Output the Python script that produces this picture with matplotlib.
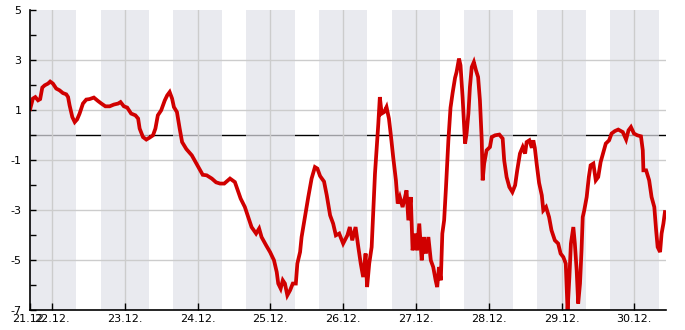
import numpy as np
import pandas as pd
import matplotlib
matplotlib.use("Agg")
import matplotlib.pyplot as plt
import matplotlib.dates as mdates

# hours since 21.12. 00:00 and temperature
hours = [16.8, 17.7, 18.5, 19.4, 20.1, 20.8, 21.6, 22.7, 23.4, 24.3, 25.4, 26.5, 27.6, 28.7, 29.3,
         29.8, 30.7, 31.5, 32.3, 33.1, 34.2, 35.3, 36.4, 37.8, 39.2, 40.3, 41.6, 43.0, 44.4, 45.8,
         46.6, 47.7, 48.8, 50.1, 51.5, 52.4, 52.9, 54.0, 55.1, 56.2, 57.3, 58.1, 58.9, 60.0, 61.2,
         62.0, 62.8, 63.6, 64.2, 65.2, 66.1, 66.9, 68.3, 70.1, 72.2, 73.7, 75.0, 76.7, 78.1, 79.4,
         80.8, 82.7, 84.3, 85.4, 86.2, 87.6, 88.7, 89.8, 91.3, 92.3, 93.1, 94.6, 95.9, 97.2, 98.1,
         98.6, 99.4, 100.1, 100.8, 101.6, 102.5, 103.4, 104.4, 104.9, 105.8, 106.3, 107.4, 108.5,
         109.6, 110.7, 111.5, 112.4, 113.7, 114.6, 115.7, 116.7, 117.6, 118.7, 120.0, 121.4, 122.2,
         123.0, 124.1, 125.0, 125.8, 126.6, 127.4, 127.9, 128.6, 129.4, 129.9, 130.5, 131.1, 131.6,
         132.1, 132.7, 133.5, 134.3, 135.1, 135.8, 136.5, 137.4, 138.0, 138.7, 139.6, 140.4, 140.9,
         141.5, 142.3, 142.9, 143.7, 144.4, 145.1, 145.9, 146.6, 147.3, 148.1, 148.9, 149.7, 150.5,
         151.0, 151.6, 152.2, 152.7, 153.3, 153.9, 154.7, 155.4, 156.1, 156.9, 157.4, 158.2, 158.7,
         159.4, 160.2, 160.7, 161.3, 161.8, 162.4, 163.1, 163.8, 164.5, 165.1, 165.7, 166.0, 166.5,
         167.3, 168.4, 169.0, 170.1, 171.5, 172.6, 173.1, 173.9, 174.8, 175.8, 176.7, 177.4, 178.3,
         179.2, 180.0, 180.5, 181.4, 182.2, 182.7, 183.2, 183.8, 184.6, 185.5, 186.0, 186.9, 187.9,
         188.7, 189.8, 190.9, 191.7, 192.6, 193.4, 194.0, 194.6, 195.1, 195.9, 196.4, 197.0, 197.5,
         198.1, 198.6, 199.0, 199.5, 200.3, 201.0, 201.6, 202.5, 203.3, 204.1, 204.9, 205.8, 206.6,
         207.7, 208.5, 209.6, 210.7, 212.2, 213.3, 214.1, 214.9, 215.9, 217.0, 218.2, 218.8, 219.0,
         219.9, 220.9, 221.7, 222.6, 223.2, 223.7, 224.5, 225.0, 225.6, 226.1]
temps = [1.05, 1.47, 1.53, 1.40, 1.45, 1.91, 2.00, 2.07, 2.15, 2.07, 1.87, 1.80, 1.69, 1.64, 1.53,
         1.20, 0.73, 0.53, 0.64, 0.87, 1.27, 1.43, 1.45, 1.51, 1.37, 1.27, 1.16, 1.16, 1.23, 1.27,
         1.33, 1.16, 1.11, 0.87, 0.80, 0.67, 0.27, -0.07, -0.17, -0.09, 0.00, 0.27, 0.80, 1.00, 1.40,
         1.60, 1.73, 1.47, 1.13, 0.93, 0.27, -0.27, -0.55, -0.80, -1.25, -1.58, -1.60, -1.73, -1.88, -1.93,
         -1.93, -1.73, -1.87, -2.25, -2.53, -2.87, -3.27, -3.67, -3.93, -3.73, -4.07, -4.40, -4.67, -5.00, -5.47,
         -5.93, -6.13, -5.80, -5.93, -6.40, -6.20, -5.93, -5.93, -5.13, -4.67, -4.07, -3.27, -2.47,
         -1.73, -1.27, -1.33, -1.63, -1.85, -2.40, -3.20, -3.53, -4.00, -3.93, -4.33, -4.00, -3.67,
         -4.20, -3.67, -4.47, -5.13, -5.67, -4.73, -6.07, -5.13, -4.47, -3.13, -1.53, -0.47, 0.47,
         1.53, 0.87, 0.93, 1.13, 0.67, -0.07, -0.87, -1.80, -2.73, -2.47, -2.87, -2.47, -2.20,
         -3.40, -2.47, -4.60, -3.93, -4.60, -3.53, -5.00, -4.07, -4.73, -4.07, -5.00, -5.27, -5.80,
         -6.07, -5.27, -5.80, -3.93, -3.40, -2.10, -0.20, 1.10, 1.70, 2.30, 2.53, 3.07, 2.80,
         1.50, -0.33, 0.07, 0.87, 1.93, 2.73, 2.93, 2.60, 2.33, 1.40, -0.20, -1.80, -1.13,
         -0.60, -0.47, -0.07, 0.00, 0.03, -0.13, -1.00, -1.67, -2.07, -2.27, -2.00, -1.40, -0.73,
         -0.47, -0.73, -0.27, -0.20, -0.50, -0.20, -0.50, -1.13, -1.90, -2.40, -3.00, -2.87, -3.27,
         -3.80, -4.20, -4.33, -4.73, -4.87, -5.13, -7.00, -5.67, -4.33, -3.67, -4.33, -5.40, -6.73,
         -5.93, -4.60, -3.27, -3.00, -2.47, -1.67, -1.20, -1.13, -1.80, -1.67, -1.07, -0.67, -0.33,
         -0.20, 0.07, 0.17, 0.23, 0.13, -0.17, 0.20, 0.33, 0.07, 0.00, -0.04, -0.60, -1.40,
         -1.40, -1.80, -2.47, -2.87, -3.80, -4.47, -4.67, -3.93, -3.53, -3.07]

night_days = ["2023-12-20", "2023-12-21", "2023-12-22", "2023-12-23", "2023-12-24",
              "2023-12-25", "2023-12-26", "2023-12-27", "2023-12-28", "2023-12-29"]
tick_days = ["2023-12-22", "2023-12-23", "2023-12-24", "2023-12-25", "2023-12-26",
             "2023-12-27", "2023-12-28", "2023-12-29", "2023-12-30"]
y_major = [-7, -5, -3, -1, 1, 3, 5]
y_minor = [-6, -4, -2, 0, 2, 4]

plt.rcParams['axes.unicode_minus'] = False
plt.rcParams['font.family'] = 'DejaVu Sans'

t0 = pd.Timestamp("2023-12-21")
times = t0 + pd.to_timedelta(hours, unit="h")
t_start = t0 + pd.Timedelta(hours=16.75)
t_end = t0 + pd.Timedelta(hours=226.35)

fig = plt.figure(figsize=(6.85, 3.3), dpi=100)
ax = fig.add_axes([0.0438, 0.0597, 0.928, 0.909])

# zero line below the night bands
ax.axhline(0, color='black', lw=1.0, zorder=0.5)

for d in night_days:
    s = pd.Timestamp(d) + pd.Timedelta(hours=16)
    ax.axvspan(s, s + pd.Timedelta(hours=16), facecolor=(0.882, 0.886, 0.914),
               alpha=0.7, lw=0, zorder=1)

for v in [-5, -3, -1, 1, 3]:
    ax.axhline(v, color='#cccccc', lw=1.0, zorder=1.5)
for d in tick_days:
    ax.axvline(pd.Timestamp(d), color='#cccccc', lw=1.0, zorder=1.5)

ax.plot(times, temps, color='#d00000', lw=2.7, zorder=3, solid_joinstyle='miter')

ax.set_xlim(t_start, t_end)
ax.set_ylim(-7, 5)

ax.set_yticks(y_major)
ax.set_yticklabels([str(v) for v in y_major])
ax.set_yticks(y_minor, minor=True)
ax.tick_params(axis='y', which='both', direction='in', length=4, width=1,
               pad=6, labelsize=8, colors='black')

xt = [t_start] + [pd.Timestamp(d) for d in tick_days]
ax.set_xticks(xt)
ax.xaxis.set_major_formatter(mdates.DateFormatter('%d.%m.'))
ax.tick_params(axis='x', direction='in', length=5, width=1, pad=3,
               labelsize=8, colors='black')

for side in ['top', 'right']:
    ax.spines[side].set_visible(False)
for side in ['left', 'bottom']:
    ax.spines[side].set_linewidth(1.2)
    ax.spines[side].set_zorder(4)

fig.savefig("out.png", dpi=100)
